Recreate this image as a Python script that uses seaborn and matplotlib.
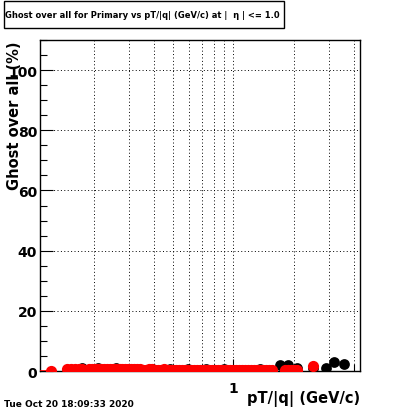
import numpy as np
import pandas as pd
import seaborn as sns
import matplotlib
matplotlib.use("Agg")
import matplotlib.pyplot as plt
from matplotlib.patches import Rectangle
from matplotlib.ticker import FixedLocator, NullFormatter, MultipleLocator

# values (pT in GeV/c, ghost rate in %)
pt_bins = [0.123, 0.148, 0.155, 0.162, 0.169, 0.176, 0.190, 0.197, 0.204, 0.211,
           0.218, 0.226, 0.234, 0.243, 0.251, 0.260, 0.270, 0.279, 0.289, 0.299,
           0.309, 0.320, 0.331, 0.343, 0.355, 0.367, 0.380, 0.394, 0.408, 0.422,
           0.437, 0.452, 0.468, 0.484, 0.501, 0.519, 0.537, 0.556, 0.576, 0.596,
           0.617, 0.638, 0.661, 0.684, 0.708, 0.733, 0.759, 0.785, 0.813, 0.841,
           0.871, 0.902, 0.933, 0.966, 1.000, 1.035, 1.072, 1.109, 1.148, 1.189,
           1.230, 1.274, 1.318, 1.365, 1.413, 1.462, 1.514, 1.567, 1.810, 1.884,
           1.950, 2.018, 2.089, 2.512]
ghost_red = [0.0, 0.6, 0.6, 0.6, 0.6, 0.6, 0.7, 0.8, 0.7, 0.7,
             0.7, 0.7, 0.6, 0.6, 0.7, 0.7, 0.6, 0.6, 0.7, 0.7,
             0.6, 0.6, 0.6, 0.6, 0.5, 0.5, 0.6, 0.6, 0.5, 0.5,
             0.5, 0.6, 0.5, 0.5, 0.5, 0.5, 0.4, 0.4, 0.5, 0.5,
             0.4, 0.4, 0.3, 0.3, 0.4, 0.4, 0.3, 0.3, 0.4, 0.4,
             0.3, 0.3, 0.3, 0.3, 0.3, 0.3, 0.2, 0.2, 0.3, 0.3,
             0.2, 0.2, 0.3, 0.3, 0.3, 0.3, 0.4, 0.4, 0.4, 0.4,
             0.4, 0.5, 0.5, 1.6]

pt_black = [0.176, 0.211, 0.260, 0.320, 0.394, 0.484, 0.596, 0.733, 0.902, 1.109,
            1.365, 1.718, 1.884, 2.089, 2.512, 2.917, 3.199, 3.589]
ghost_black = [0.9, 1.0, 0.9, 0.8, 0.8, 0.7, 0.7, 0.6, 0.6, 0.5,
               0.6, 2.0, 2.1, 0.9, 1.0, 1.0, 2.9, 2.2]
err_black = [0.2, 0.2, 0.2, 0.2, 0.2, 0.2, 0.2, 0.2, 0.2, 0.2,
             0.3, 0.5, 0.5, 0.5, 0.6, 0.7, 1.0, 0.9]

red = pd.DataFrame({"pt": pt_bins, "ghost": ghost_red})
black = pd.DataFrame({"pt": pt_black, "ghost": ghost_black, "err": err_black})

sns.set_style("ticks")
plt.rcParams["font.family"] = ["DejaVu Sans"]
plt.rcParams["text.color"] = "black"
plt.rcParams["xtick.color"] = "black"
plt.rcParams["ytick.color"] = "black"
plt.rcParams["axes.edgecolor"] = "black"

fig = plt.figure(figsize=(4.0, 4.14), dpi=100)
ax = fig.add_axes([0.1, 0.1014, 0.8, 0.7996])

ax.errorbar(black["pt"], black["ghost"], yerr=black["err"], fmt="none",
            ecolor="black", elinewidth=1.3, capsize=0, zorder=2)
sns.scatterplot(data=black, x="pt", y="ghost", color="black", s=60, marker="o",
                edgecolor="black", linewidth=0, ax=ax, zorder=3)
sns.scatterplot(data=red, x="pt", y="ghost", color="red", s=65, marker="o",
                edgecolor="red", linewidth=0, ax=ax, zorder=5)
ax.plot([0.108, 0.123], [0, 0], color="red", lw=1.2, zorder=4)

ax.set_xscale("log")
ax.set_xlim(0.108, 4.3)
ax.set_ylim(0, 110)

ax.xaxis.set_major_locator(FixedLocator([1.0]))
ax.xaxis.set_minor_locator(FixedLocator([0.2, 0.3, 0.4, 0.5, 0.6, 0.7, 0.8, 0.9, 2, 3, 4]))
ax.xaxis.set_minor_formatter(NullFormatter())
ax.set_xticklabels(["1"])
ax.yaxis.set_major_locator(MultipleLocator(20))
ax.yaxis.set_minor_locator(MultipleLocator(5))

ax.grid(True, which="major", color="black", linestyle=(0, (1, 2.5)), linewidth=0.7)
ax.grid(True, which="minor", axis="x", color="black", linestyle=(0, (1, 2.5)), linewidth=0.7)

ax.tick_params(axis="both", which="major", direction="in", length=9, width=0.8,
               labelsize=10, colors="black")
ax.tick_params(axis="y", which="major", pad=2)
ax.tick_params(axis="x", which="major", pad=7)
ax.tick_params(axis="both", which="minor", direction="in", length=5, width=0.8)
for lab in ax.get_xticklabels() + ax.get_yticklabels():
    lab.set_fontweight("bold")
for sp in ax.spines.values():
    sp.set_linewidth(1.0)
    sp.set_visible(True)
    sp.set_color("black")

ax.set_xlabel("")
ax.set_ylabel("")
fig.text(0.9, 0.018, "pT/|q| (GeV/c)", ha="right", va="bottom",
         fontsize=10.5, fontweight="bold")
fig.text(0.036, 0.9, "Ghost over all (%)", ha="center", va="top", rotation=90,
         fontsize=10.5, fontweight="bold")

# title box
fig.patches.append(Rectangle((0.011, 0.930), 0.699, 0.065, transform=fig.transFigure,
                             facecolor="white", edgecolor="black", linewidth=1))
fig.text(0.0125, 0.962, "Ghost over all for Primary vs pT/|q| (GeV/c) at |  \u03b7 | <= 1.0",
         ha="left", va="center", fontsize=6.0, fontweight="bold")
fig.text(0.01, 0.022, "Tue Oct 20 18:09:33 2020", ha="left", va="center",
         fontsize=6.5, fontweight="bold")

fig.savefig("out.png", dpi=100)
